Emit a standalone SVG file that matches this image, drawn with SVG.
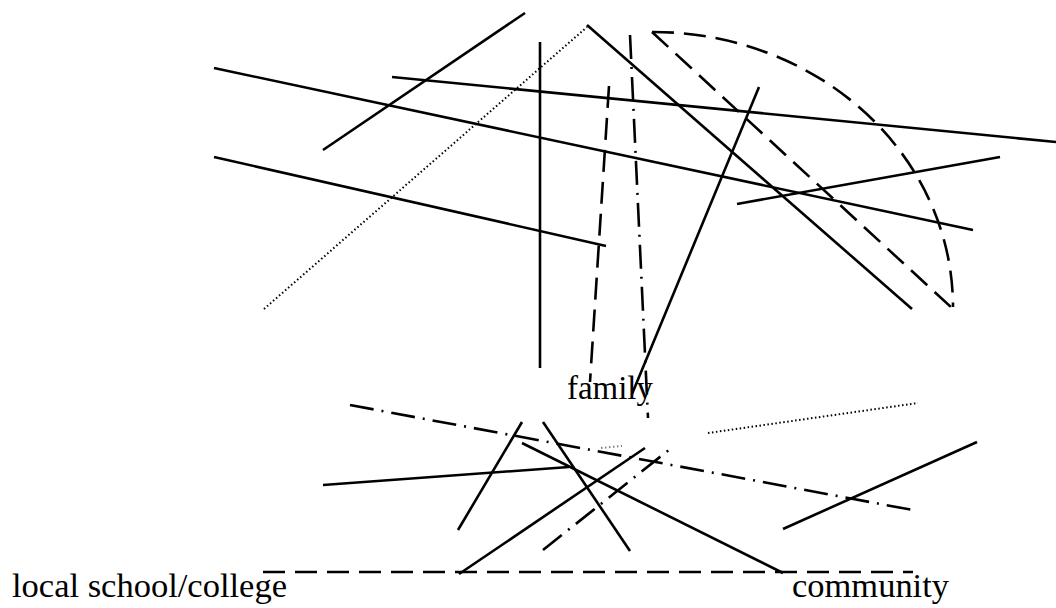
<svg xmlns="http://www.w3.org/2000/svg" width="1056" height="608" viewBox="0 0 1056 608">
<style>
.s{stroke:#000;stroke-width:2.6;fill:none;stroke-linecap:butt}
.d{stroke:#000;stroke-width:2.6;fill:none;stroke-dasharray:22 10}
.dd{stroke:#000;stroke-width:2.6;fill:none;stroke-dasharray:24 8 2 8}
.o{stroke:#000;stroke-width:2;fill:none;stroke-dasharray:1.5 2.5}
.t{font-family:"Liberation Serif","Times New Roman",serif;font-size:33px;fill:#000}
</style>
<rect width="1056" height="608" fill="#fff"/>
<g id="connectors">
<line class="s" x1="214" y1="68" x2="973" y2="230"/>
<line class="s" x1="214" y1="157" x2="606" y2="246"/>
<line class="s" x1="323" y1="150" x2="525" y2="13"/>
<line class="s" x1="392" y1="77" x2="1056" y2="142"/>
<line class="s" x1="540" y1="42" x2="540" y2="368"/>
<line class="o" x1="264" y1="309" x2="587" y2="27"/>
<line class="s" x1="587" y1="25" x2="912" y2="309"/>
<line class="d" x1="609" y1="86" x2="590" y2="382"/>
<line class="dd" x1="630" y1="35" x2="648" y2="418"/>
<line class="s" x1="759" y1="87" x2="632" y2="394"/>
<line class="d" x1="652" y1="32" x2="952" y2="308"/>
<path class="d" d="M652,32 A300,275 0 0 1 953,307"/>
<line class="s" x1="737" y1="204" x2="1000" y2="157"/>
<line class="dd" x1="350" y1="405" x2="918" y2="511"/>
<line class="o" x1="708" y1="433" x2="918" y2="403"/>
<line class="o" x1="601" y1="448" x2="622" y2="446" stroke-opacity="0.5"/>
<line class="s" x1="323" y1="485" x2="569" y2="467"/>
<line class="s" x1="458" y1="530" x2="522" y2="422"/>
<line class="s" x1="543" y1="422" x2="630" y2="551"/>
<line class="s" x1="522" y1="443" x2="783" y2="573"/>
<line class="s" x1="459" y1="574" x2="645" y2="448"/>
<line class="dd" x1="543" y1="550" x2="670" y2="449"/>
<line class="s" x1="783" y1="529" x2="977" y2="442"/>
<line class="d" x1="263" y1="572" x2="913" y2="572"/>
</g>
<g id="family"><text class="t" x="567" y="399" textLength="86" lengthAdjust="spacingAndGlyphs">family</text></g>
<g id="local-school-college"><text class="t" x="12" y="597" textLength="275" lengthAdjust="spacingAndGlyphs">local school/college</text></g>
<g id="community"><text class="t" x="792" y="597" textLength="157" lengthAdjust="spacingAndGlyphs">community</text></g>
</svg>
